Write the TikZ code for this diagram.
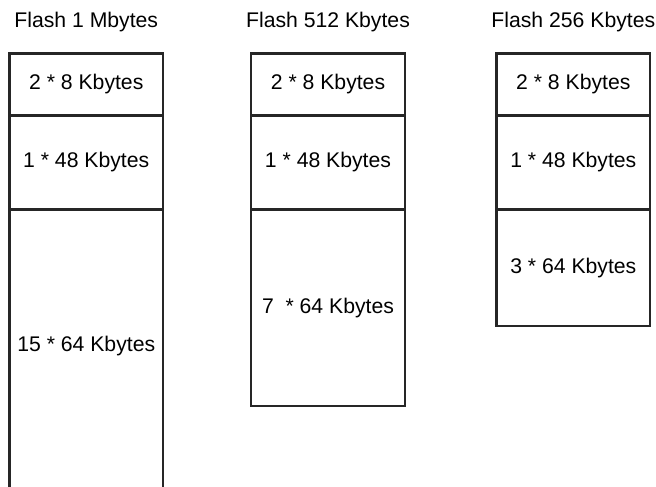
\documentclass[tikz,border=0pt]{standalone}
\usepackage{fontspec}
\setmainfont{Liberation Sans}

\begin{document}
\begin{tikzpicture}[x=1pt, y=-1pt,
        every node/.style={font=\fontsize{21.2}{25}\selectfont, inner sep=0pt},
        blk/.style={draw=black!85, line width=2.4pt, minimum width=153.5pt},
        openblk/.style={minimum width=153.5pt},
        side/.style={draw=black!85, line width=2.4pt}]
        \useasboundingbox (0,0) rectangle (656,487);

        \node (t1) at (86.25,22.5)  {Flash 1 Mbytes};                               %
        \node (t2) at (328,22.5)    {Flash 512 Kbytes};                             %
        \node (t3) at (573.3,22.5)  {Flash 256 Kbytes};                             %

        \node [blk, minimum height=61.8pt]  (a1) at (86.25,84.4)  {2 * 8 Kbytes};   %1 M
        \node [blk, minimum height=94.2pt]  (a2) at (86.25,162.4) {1 * 48 Kbytes};  %
        \node [openblk, minimum height=272pt] (a3) at (86.25,346) {15 * 64 Kbytes}; %
        \draw [side] (a3.north west) -- ++(0,300);                                  %
        \draw [side] (a3.north east) -- ++(0,300);                                  %

        \node [blk, minimum height=61.8pt]  (b1) at (328,84.4)    {2 * 8 Kbytes};   %512 K
        \node [blk, minimum height=94.2pt]  (b2) at (328,162.4)   {1 * 48 Kbytes};  %
        \node [blk, minimum height=196.5pt] (b3) at (328,307.75)  {7\ \ * 64 Kbytes}; %

        \node [blk, minimum height=61.8pt]  (c1) at (573.3,84.4)  {2 * 8 Kbytes};   %256 K
        \node [blk, minimum height=94.2pt]  (c2) at (573.3,162.4) {1 * 48 Kbytes};  %
        \node [blk, minimum height=116.5pt] (c3) at (573.3,267.75) {3 * 64 Kbytes}; %
\end{tikzpicture}
\end{document}
